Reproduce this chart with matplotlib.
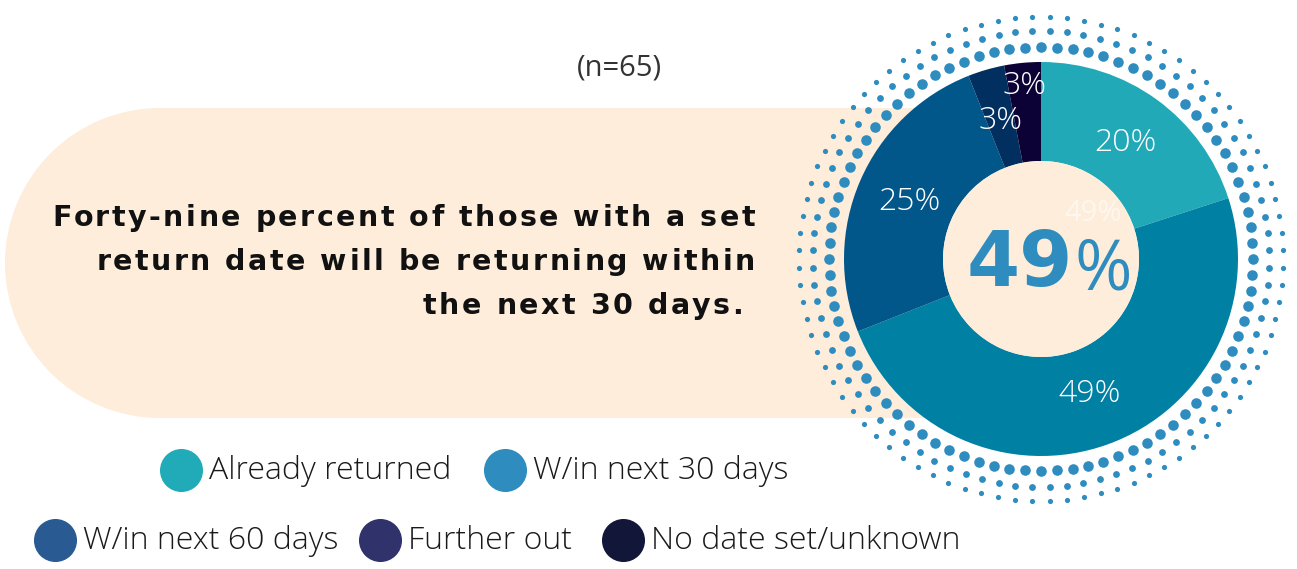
import numpy as np
import matplotlib.pyplot as plt
from matplotlib.patches import Circle, Rectangle
from matplotlib.font_manager import FontProperties

# Canvas size in pixels (dpi 100)
W, H = 1297, 569

# Data
categories = ['Already returned', 'W/in next 30 days', 'W/in next 60 days',
              'Further out', 'No date set/unknown']
shares = [20, 49, 25, 3, 3]
slice_colors = ['#21A9B8', '#0080A3', '#01568A', '#012F60', '#0D0236']
legend_colors = ['#21ABB9', '#2E8CBF', '#2A5A92', '#30336B', '#121639']
sample_note = '(n=65)'
headline_value = '49'
message_lines = ['Forty-nine percent of those with a set',
                 'return date will be returning within',
                 'the next 30 days. ']

# Layout (image pixels, y measured from the top)
CX, CY = 1041, 259
R_OUT, R_IN = 197, 98
PEACH = '#FDEDDA'
DOT_BLUE = '#2E8CBF'
LEGEND_POS = [(181, 470), (505, 470), (55, 540), (380, 540), (623, 540)]
MSG_LEFT, MSG_RIGHT = 52, 755   # extent of the first message line
MSG_BASELINES = [226, 270, 314]


def Y(y):
    """Convert an image row to a data y value."""
    return H - y


def text_width(renderer, fp, s):
    return renderer.get_text_width_height_descent(s, fp, ismath=False)[0]


def pen_positions(renderer, fp, text):
    ref = text_width(renderer, fp, 'H')
    pens = [0.0] + [text_width(renderer, fp, text[:i] + 'H') - ref
                    for i in range(1, len(text) + 1)]
    return pens


def tracked_text(ax, renderer, text, x_right, y, track, fp, **kw):
    """Right-aligned text line with extra spacing between letters."""
    pens = pen_positions(renderer, fp, text)
    total = pens[-1] + track * (len(text) - 1)
    x0 = x_right - total
    for i, ch in enumerate(text):
        if ch != ' ':
            ax.text(x0 + pens[i] + i * track, y, ch, fontproperties=fp,
                    ha='left', va='baseline', **kw)


fig = plt.figure(figsize=(W / 100, H / 100), dpi=100)
ax = fig.add_axes([0, 0, 1, 1])
renderer = fig.canvas.get_renderer()

# Peach stadium behind the message
ax.add_patch(Circle((160, Y(263)), 155, color=PEACH, lw=0, zorder=0))
ax.add_patch(Rectangle((160, Y(418)), 880, 310, color=PEACH, lw=0, zorder=0))

# Halftone dot rings around the donut
rings = [(212, 84, 0.0, 58), (228, 84, 0.5, 24), (242, 88, 0.5, 14)]
for rad, n, off, size in rings:
    ang = 2 * np.pi * (np.arange(n) + off) / n
    ax.scatter(CX + rad * np.cos(ang), Y(CY) + rad * np.sin(ang),
               s=size, color=DOT_BLUE, lw=0, zorder=1)

# Donut
wedges, _, autotexts = ax.pie(
    shares, colors=slice_colors, startangle=90, counterclock=False,
    center=(CX, Y(CY)), radius=R_OUT, frame=True,
    wedgeprops=dict(width=R_OUT - R_IN, linewidth=0),
    autopct=lambda p: f'{p:.0f}%', pctdistance=0.73,
    textprops=dict(color='white', fontsize=23, family='Open Sans',
                   fontweight='light'))
for w in wedges:
    w.set_zorder(2)
for t in autotexts:
    t.set_zorder(4)

# last small slice label sits further out
last = wedges[-1]
mid = np.deg2rad((last.theta1 + last.theta2) / 2)
autotexts[-1].set_position((CX + 0.88 * R_OUT * np.cos(mid),
                            Y(CY) + 0.88 * R_OUT * np.sin(mid)))

ax.add_patch(Circle((CX, Y(CY)), R_IN, color=PEACH, lw=0, zorder=3))

# faint duplicate label inside the hole
ax.text(CX + 52, Y(213), f'{shares[1]}%', color='white', alpha=0.6,
        fontsize=21, family='Open Sans', ha='center', va='center', zorder=4)

# Big centre figure
ax.text(1073, Y(286), headline_value, color=DOT_BLUE, fontsize=55,
        fontweight='bold', family='DejaVu Sans', ha='right', va='baseline',
        zorder=4)
ax.text(1074, Y(289), '%', color=DOT_BLUE, fontsize=50, family='Open Sans',
        ha='left', va='baseline', zorder=4)

# Sample size and message
ax.text(619, Y(68), sample_note, color='#333333', fontsize=21,
        family='Open Sans', ha='center', va='center')
msg_fp = FontProperties(family='DejaVu Sans', weight='bold', size=20.5)
first = message_lines[0]
track = ((MSG_RIGHT - MSG_LEFT) - pen_positions(renderer, msg_fp, first)[-1]) \
    / (len(first) - 1)
for line, base in zip(message_lines, MSG_BASELINES):
    tracked_text(ax, renderer, line, MSG_RIGHT, Y(base), track, msg_fp,
                 color='#111111')

# Legend
for (lx, ly), lab, col in zip(LEGEND_POS, categories, legend_colors):
    ax.scatter([lx], [Y(ly)], s=960, color=col, lw=0, zorder=3)
    ax.text(lx + 28, Y(ly + 1), lab, color='#1a1a1a', fontsize=23,
            family='Open Sans', fontweight='light', ha='left', va='center')

ax.set_xlim(0, W)
ax.set_ylim(0, H)
ax.set_aspect('auto')
ax.set_axis_off()

fig.savefig('out.png', dpi=100, facecolor='white')
